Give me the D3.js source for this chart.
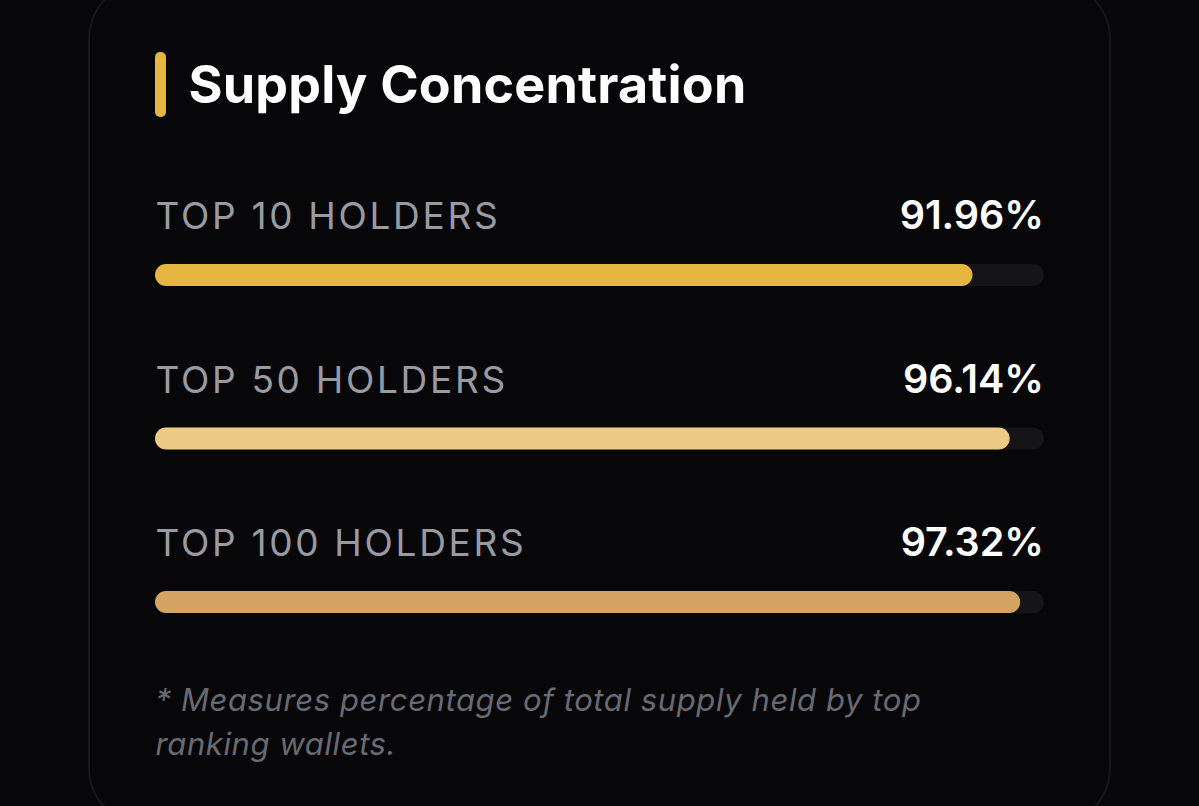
<!DOCTYPE html>
<html>
<head>
<meta charset="utf-8">
<script src="https://cdnjs.cloudflare.com/ajax/libs/d3/7.8.5/d3.min.js"></script>
<style>
html, body { margin: 0; padding: 0; background: #08080a; overflow: hidden; }
text { font-family: Inter, "Noto Sans", sans-serif; }
</style>
</head>
<body>
<svg id="chart" width="1199" height="806" style="display:block"></svg>
<script>
const categories = ["TOP 10 HOLDERS", "TOP 50 HOLDERS", "TOP 100 HOLDERS"];
const values = [91.96, 96.14, 97.32];
const barColors = ["#e6b740", "#edcb85", "#d4a462"];
const noteLines = ["* Measures percentage of total supply held by top", "ranking wallets."];

const svg = d3.select("#chart");

// card
svg.append("rect")
    .attr("x", 89).attr("y", -20)
    .attr("width", 1021).attr("height", 847)
    .attr("rx", 60)
    .attr("fill", "#070709")
    .attr("stroke", "#18181b")
    .attr("stroke-width", 2);

// title
svg.append("rect")
    .attr("x", 155).attr("y", 52)
    .attr("width", 11).attr("height", 65)
    .attr("rx", 5)
    .attr("fill", "#e6b740");

svg.append("text")
    .attr("x", 188.5).attr("y", 103)
    .attr("font-size", 52).attr("font-weight", 700)
    .attr("letter-spacing", 0.2)
    .attr("fill", "#fff")
    .text("Supply Concentration");

const x = d3.scaleLinear().domain([0, 100]).range([155, 1044]);
const y = d3.scalePoint().domain(categories).range([275, 602]);
const barH = 22;

const rows = svg.append("g").selectAll("g")
    .data(categories)
    .enter().append("g");

rows.append("rect")
    .attr("x", x(0)).attr("y", d => y(d) - barH / 2)
    .attr("width", x(100) - x(0)).attr("height", barH)
    .attr("rx", barH / 2)
    .attr("fill", "#151517");

rows.append("rect")
    .attr("x", x(0)).attr("y", d => y(d) - barH / 2)
    .attr("width", (d, i) => x(values[i]) - x(0)).attr("height", barH)
    .attr("rx", barH / 2)
    .attr("fill", (d, i) => barColors[i]);

rows.append("text")
    .attr("x", 155.5).attr("y", d => y(d) - 46)
    .attr("font-size", 37).attr("font-weight", 400)
    .attr("letter-spacing", 2.7)
    .attr("fill", "#9a9aa3")
    .text(d => d);

rows.append("text")
    .attr("x", 1044).attr("y", d => y(d) - 46)
    .attr("text-anchor", "end")
    .attr("font-size", 39.5).attr("font-weight", 600)
    .attr("fill", "#fff")
    .text((d, i) => values[i].toFixed(2) + "%");

svg.append("g").selectAll("text")
    .data(noteLines)
    .enter().append("text")
    .attr("x", 155.5).attr("y", (d, i) => 711 + i * 44)
    .attr("font-size", 31).attr("font-style", "italic")
    .attr("letter-spacing", 0.6)
    .attr("fill", "#6a6a72")
    .text(d => d);
</script>
</body>
</html>
